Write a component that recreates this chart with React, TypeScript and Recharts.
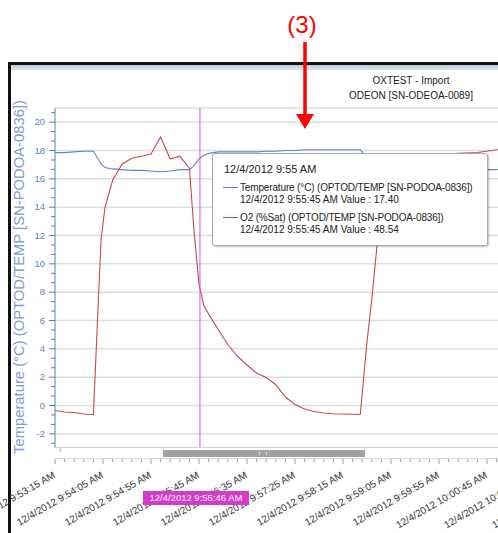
import React from "react";
import { LineChart, Line, XAxis, YAxis, ReferenceLine } from "recharts";

// seconds after 12/4/2012 9:53:15 AM
const seconds = [
  0, 10, 20, 30, 40, 45, 48, 52, 60, 70, 80, 90, 100, 110, 120, 130, 140, 145, 150, 155,
  160, 170, 180, 190, 200, 210, 220, 230, 240, 250, 260, 270, 280, 290, 300, 310, 318, 325, 330, 335,
  340, 345, 350, 360, 380, 400, 420, 440, 460, 470,
];
const temperature = [
  17.85, 17.85, 17.9, 17.95, 17.95, 17.4, 17.05, 16.8, 16.7, 16.65, 16.6, 16.6, 16.55, 16.5, 16.55, 16.65, 16.65, 16.95, 17.4, 17.65,
  17.8, 17.9, 17.9, 17.9, 17.9, 17.9, 17.95, 17.95, 18.0, 18.0, 18.05, 18.05, 18.05, 18.05, 18.05, 18.05, 18.05, 17.5, 17.1, 16.9,
  16.8, 16.75, 16.7, 16.7, 16.7, 16.7, 16.7, 16.65, 16.65, 16.7,
];
const oxygen = [
  -2.0, -2.6, -2.8, -3.4, -3.7, 40.5, 66.3, 79.1, 90.1, 96.6, 98.9, 99.7, 100.6, 107.4, 98.6, 99.7, 94.9, 69.0, 48.54, 40.0,
  36.6, 30.4, 24.4, 19.7, 16.2, 13.0, 11.2, 8.3, 3.4, 0.4, -1.4, -2.4, -3.0, -3.3, -3.4, -3.5, -3.6, 25.5, 42.5, 62.3,
  82.2, 93.5, 98.0, 99.2, 99.7, 100.3, 100.9, 101.2, 102.3, 103.1,
];

const xMajorTicks = [0, 50, 100, 150, 200, 250, 300, 350, 400, 450, 500, 550, 600];
const xTickLabels = [
  "12/4/2012 9:53:15 AM",
  "12/4/2012 9:54:05 AM",
  "12/4/2012 9:54:55 AM",
  "12/4/2012 9:55:45 AM",
  "12/4/2012 9:56:35 AM",
  "12/4/2012 9:57:25 AM",
  "12/4/2012 9:58:15 AM",
  "12/4/2012 9:59:05 AM",
  "12/4/2012 9:59:55 AM",
  "12/4/2012 10:00:45 AM",
  "12/4/2012 10:01:35 AM",
  "12/4/2012 10:02:25 AM",
  "12/4/2012 10:03:15 AM",
];
const yMajorTicks = [-2, 0, 2, 4, 6, 8, 10, 12, 14, 16, 18, 20];

const cursorSecond = 151;
const cursorLabel = "12/4/2012 9:55:46 AM";
const tooltipSecond = 150;
const tooltipHeader = "12/4/2012 9:55 AM";
const tooltipTime = "12/4/2012 9:55:45 AM";
const tempName = "Temperature (°C) (OPTOD/TEMP [SN-PODOA-0836])";
const o2Name = "O2 (%Sat) (OPTOD/TEMP [SN-PODOA-0836])";
const axisTitle = "Temperature (°C) (OPTOD/TEMP [SN-PODOA-0836])";

const data = seconds.map((t, i) => ({ t, temp: temperature[i], o2: oxygen[i] }));

// minor ticks: every 10 s on x, every 2/3 unit on y
const xTicks: number[] = [];
for (let s = 0; s <= 600; s += 10) xTicks.push(s);
const yTicks: number[] = [];
for (let k = -1; k <= 34; k++) yTicks.push(20 - (k * 2) / 3);

const X_DOMAIN = [0, 600];
const PLOT_LEFT = 55;
const PLOT_WIDTH = 576;

const FONT = '"Liberation Sans", Arial, sans-serif';
const BLUE = "#4f7fc0";
const LINE_BLUE = "#5a86c6";
const RED = "#c44a4a";
const MAGENTA = "#e24ce0";

function XTick(props: any) {
  const { x, y, payload } = props;
  const idx = xMajorTicks.indexOf(payload.value);
  const major = idx >= 0;
  const lx = x + 1;
  const ly = y + 29;
  return (
    <g>
      <line x1={x} x2={x} y1={y + 11} y2={y + (major ? 16 : 14)} stroke="#9c9c9c" />
      {major && (
        <text
          x={lx}
          y={ly}
          textAnchor="end"
          transform={`rotate(-30 ${lx} ${ly})`}
          fontSize={10}
          fontFamily={FONT}
          fill="#333"
        >
          {xTickLabels[idx]}
        </text>
      )}
    </g>
  );
}

function YTick(props: any) {
  const { x, y, payload } = props;
  const v = payload.value;
  const r = Math.round(v);
  const major = Math.abs(v - r) < 0.01 && yMajorTicks.includes(r);
  return (
    <g>
      <line x1={x - (major ? 6 : 4)} x2={x} y1={y} y2={y} stroke={BLUE} />
      {major && (
        <text x={x - 10} y={y} dy="0.35em" textAnchor="end" fontSize={9.5} fontFamily={FONT} fill="#5a7fc0">
          {r}
        </text>
      )}
    </g>
  );
}

function YTitle(props: any) {
  const { viewBox } = props;
  const cx = 19;
  const cy = viewBox.y + viewBox.height / 2 - 1;
  return (
    <text
      x={cx}
      y={cy}
      dy="0.35em"
      textAnchor="middle"
      transform={`rotate(-90 ${cx} ${cy})`}
      fontSize={14.8}
      fontFamily={FONT}
      fill="#7b9bd2"
    >
      {axisTitle}
    </text>
  );
}

export default function App() {
  const ti = seconds.indexOf(tooltipSecond);
  const cursorX = PLOT_LEFT + ((cursorSecond - X_DOMAIN[0]) / (X_DOMAIN[1] - X_DOMAIN[0])) * PLOT_WIDTH;
  return (
    <div
      style={{
        position: "fixed",
        left: 0,
        top: 0,
        width: 498,
        height: 533,
        overflow: "hidden",
        background: "#fff",
        fontFamily: FONT,
      }}
    >
      {/* window frame */}
      <div
        style={{
          position: "absolute",
          left: 8,
          top: 62,
          width: 520,
          height: 500,
          borderLeft: "3px solid #111",
          borderTop: "3px solid #111",
        }}
      />
      <div
        style={{
          position: "absolute",
          left: 11,
          top: 65,
          width: 520,
          height: 5,
          background: "linear-gradient(#b9c8d9, #dfe6ee)",
        }}
      />

      <div style={{ position: "absolute", left: 0, top: 0 }}>
        <LineChart
          width={PLOT_LEFT + PLOT_WIDTH + 69}
          height={533}
          data={data}
          margin={{ top: 108, right: 69, bottom: 0, left: 0 }}
        >
          <XAxis
            dataKey="t"
            type="number"
            domain={X_DOMAIN}
            ticks={xTicks}
            interval={0}
            tickSize={0}
            tickMargin={0}
            axisLine={false}
            tickLine={false}
            height={85}
            tick={<XTick />}
          />
          <YAxis
            yAxisId="temp"
            type="number"
            domain={[-3, 21]}
            ticks={yTicks}
            interval={0}
            width={PLOT_LEFT}
            tickSize={0}
            tickMargin={0}
            tickLine={false}
            axisLine={{ stroke: BLUE }}
            tick={<YTick />}
            label={<YTitle />}
          />
          <YAxis yAxisId="o2" orientation="right" type="number" domain={[-17, 119]} hide />
          {[...yMajorTicks, 21].map((v) => (
            <ReferenceLine key={v} yAxisId="temp" y={v} stroke="#dedede" strokeWidth={1.5} />
          ))}
          <Line
            yAxisId="temp"
            dataKey="temp"
            type="linear"
            stroke={LINE_BLUE}
            strokeWidth={1.1}
            dot={false}
            isAnimationActive={false}
          />
          <Line
            yAxisId="o2"
            dataKey="o2"
            type="linear"
            stroke={RED}
            strokeWidth={1.1}
            dot={false}
            isAnimationActive={false}
          />
          <ReferenceLine yAxisId="temp" x={cursorSecond} stroke={MAGENTA} strokeWidth={1} />
        </LineChart>
      </div>

      {/* cursor time label, drawn above the axis labels */}
      <div
        style={{
          position: "absolute",
          left: cursorX - 57,
          top: 491,
          width: 106,
          height: 14,
          background: "#d638c8",
          color: "#fff",
          fontSize: 9.5,
          lineHeight: "14px",
          textAlign: "center",
          whiteSpace: "nowrap",
        }}
      >
        {cursorLabel}
      </div>

      {/* chart title */}
      <div
        style={{
          position: "absolute",
          left: 311,
          top: 73,
          width: 200,
          textAlign: "center",
          fontSize: 10,
          lineHeight: "15px",
          color: "#222",
        }}
      >
        <div>OXTEST - Import</div>
        <div>ODEON [SN-ODEOA-0089]</div>
      </div>

      {/* scrollbar */}
      <div
        style={{
          position: "absolute",
          left: 55,
          top: 447,
          width: 460,
          height: 10,
          background: "#fff",
          borderTop: "1px solid #cfcfcf",
          borderBottom: "1px solid #d8d8d8",
        }}
      >
        <div style={{ position: "absolute", left: 4, top: -3, fontSize: 9, color: "#888" }}>‹</div>
        <div
          style={{
            position: "absolute",
            left: 108,
            top: 2,
            width: 202,
            height: 7,
            background: "#a2a2a2",
          }}
        >
          <div
            style={{
              position: "absolute",
              left: 96,
              top: 2,
              width: 6,
              height: 3,
              borderLeft: "1px solid #ddd",
              borderRight: "1px solid #ddd",
            }}
          />
        </div>
      </div>

      {/* tooltip */}
      <div
        style={{
          position: "absolute",
          left: 212,
          top: 153,
          width: 274,
          height: 91,
          background: "#fff",
          border: "1px solid #a9a9a9",
          borderRadius: 3,
          boxShadow: "1px 1px 2px rgba(0,0,0,0.25)",
          fontSize: 10,
          color: "#222",
          whiteSpace: "nowrap",
        }}
      >
        <div style={{ position: "absolute", left: 11, top: 9, fontSize: 11 }}>{tooltipHeader}</div>
        <div style={{ position: "absolute", left: 10, top: 33, width: 15, height: 1, background: LINE_BLUE }} />
        <div style={{ position: "absolute", left: 27, top: 28, lineHeight: "12px" }}>
          <div style={{ letterSpacing: -0.15 }}>{tempName}</div>
          <div>
            {tooltipTime} Value : {temperature[ti].toFixed(2)}
          </div>
        </div>
        <div style={{ position: "absolute", left: 10, top: 63, width: 15, height: 1, background: RED }} />
        <div style={{ position: "absolute", left: 27, top: 58, lineHeight: "12px" }}>
          <div style={{ letterSpacing: -0.15 }}>{o2Name}</div>
          <div>
            {tooltipTime} Value : {oxygen[ti].toFixed(2)}
          </div>
        </div>
      </div>

      {/* annotation */}
      <div
        style={{
          position: "absolute",
          left: 252,
          top: 10,
          width: 100,
          textAlign: "center",
          fontSize: 24,
          lineHeight: "30px",
          color: "#f00",
        }}
      >
        (3)
      </div>
      <svg width={498} height={533} style={{ position: "absolute", left: 0, top: 0 }}>
        <line x1={305} x2={305} y1={42} y2={116} stroke="#f00" strokeWidth={3.5} />
        <polygon points="296,114 314,114 305,129" fill="#f00" />
      </svg>
    </div>
  );
}
